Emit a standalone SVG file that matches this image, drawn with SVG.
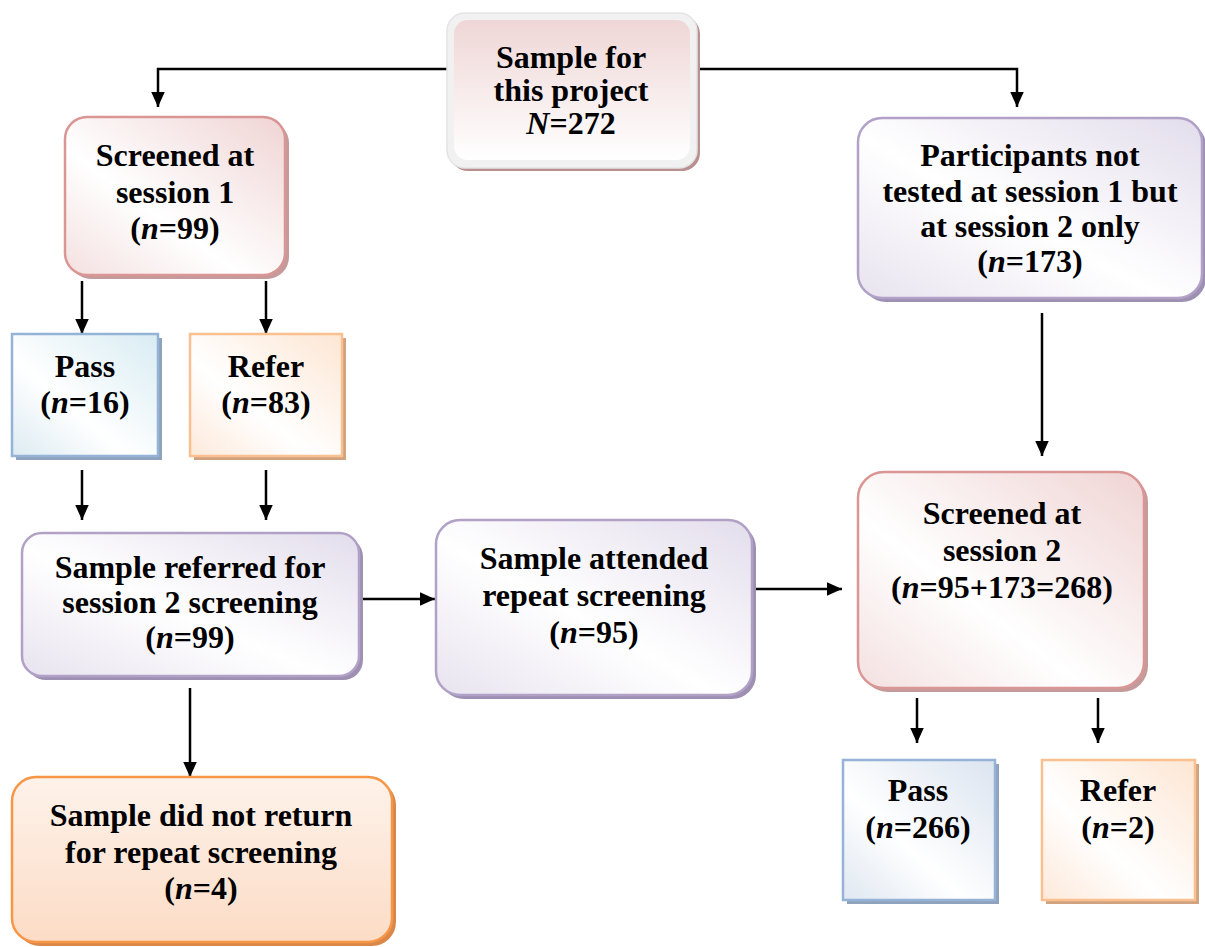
<svg xmlns="http://www.w3.org/2000/svg" width="1205" height="947" viewBox="0 0 1205 947">
<defs>
<linearGradient id="gPinkTop" x1="0" y1="0" x2="0" y2="1"><stop offset="0" stop-color="#efd6d6"/><stop offset="1" stop-color="#ffffff"/></linearGradient>
<linearGradient id="gPink" x1="1" y1="0" x2="0" y2="1"><stop offset="0" stop-color="#f0d4d4"/><stop offset="0.6" stop-color="#ffffff"/><stop offset="1" stop-color="#f4e0e0"/></linearGradient>
<linearGradient id="gPurple" x1="1" y1="0" x2="0" y2="1"><stop offset="0" stop-color="#e3ddec"/><stop offset="0.55" stop-color="#ffffff"/><stop offset="1" stop-color="#e8e3ef"/></linearGradient>
<linearGradient id="gBlue" x1="1" y1="0" x2="0" y2="1"><stop offset="0" stop-color="#d8ecf3"/><stop offset="0.6" stop-color="#ffffff"/><stop offset="1" stop-color="#dcebf2"/></linearGradient>
<linearGradient id="gBlue2" x1="1" y1="0" x2="0" y2="1"><stop offset="0" stop-color="#dbe4f0"/><stop offset="0.6" stop-color="#ffffff"/><stop offset="1" stop-color="#dfe7f1"/></linearGradient>
<linearGradient id="gOrange" x1="1" y1="0" x2="0" y2="1"><stop offset="0" stop-color="#fde6d3"/><stop offset="0.6" stop-color="#ffffff"/><stop offset="1" stop-color="#fde9da"/></linearGradient>
<linearGradient id="gOrangeB" x1="0" y1="0" x2="0" y2="1"><stop offset="0" stop-color="#fef2ea"/><stop offset="1" stop-color="#fcdcc6"/></linearGradient>
<marker id="arr" viewBox="0 0 10 10" refX="10" refY="5" markerWidth="15" markerHeight="15" markerUnits="userSpaceOnUse" orient="auto"><path d="M0,0.5 L10,5 L0,9.5 Z" fill="#000"/></marker>
</defs>
<style>
text{font-family:"Liberation Serif","Times New Roman",serif;font-weight:bold;font-size:32px;fill:#000;text-anchor:middle}
.i{font-style:italic}
.pink{fill:url(#gPink);stroke:#d99694;stroke-width:2.5}
.purple{fill:url(#gPurple);stroke:#b2a1c7;stroke-width:2.5}
.blue{fill:url(#gBlue);stroke:#95b3d7;stroke-width:2.5}
.blue2{fill:url(#gBlue2);stroke:#95b3d7;stroke-width:2.5}
.orange{fill:url(#gOrange);stroke:#fac090;stroke-width:2.5}
.orangeB{fill:url(#gOrangeB);stroke:#f79646;stroke-width:2.5}
.shP{fill:#c49a9a}
.shU{fill:#9d90b2}
.shB{fill:#8fa3bd}
.shO{fill:#d0a380}
.conn{fill:none;stroke:#000;stroke-width:2.5;marker-end:url(#arr)}
</style>
<rect width="1205" height="947" fill="#fff"/>

<g id="connectors">
<path class="conn" d="M447,69 H158 V107"/>
<path class="conn" d="M697,69 H1017 V107"/>
<path class="conn" d="M82,281 V334"/>
<path class="conn" d="M266,281 V334"/>
<path class="conn" d="M82,470 V520"/>
<path class="conn" d="M266,470 V520"/>
<path class="conn" d="M360,599 H435"/>
<path class="conn" d="M753,589 H842"/>
<path class="conn" d="M1042,313 V456"/>
<path class="conn" d="M190,688 V777"/>
<path class="conn" d="M917,698 V743"/>
<path class="conn" d="M1098,698 V743"/>
</g>

<g id="n-sample">
<rect x="450" y="16" width="250" height="155" rx="18" fill="#b98f8f"/>
<rect x="447" y="13" width="250" height="155" rx="18" fill="#f1f1f1" stroke="#e4e4e4" stroke-width="1.5"/>
<rect x="454" y="20" width="236" height="140" rx="14" fill="url(#gPinkTop)"/>
<text x="571" y="68">Sample for</text>
<text x="571" y="101">this project</text>
<text x="571" y="134"><tspan class="i">N</tspan>=272</text>
</g>

<g id="n-screened1">
<rect x="69" y="121" width="220" height="158" rx="22" class="shP"/>
<rect x="65" y="117" width="220" height="158" rx="22" class="pink"/>
<text x="175" y="166">Screened at</text>
<text x="175" y="203">session 1</text>
<text x="175" y="239">(<tspan class="i">n</tspan>=99)</text>
</g>

<g id="n-pass1">
<rect x="16" y="338" width="146" height="122" class="shB"/>
<rect x="12" y="334" width="146" height="122" class="blue"/>
<text x="85" y="377">Pass</text>
<text x="85" y="413">(<tspan class="i">n</tspan>=16)</text>
</g>

<g id="n-refer1">
<rect x="194" y="338" width="152" height="122" class="shO"/>
<rect x="190" y="334" width="152" height="122" class="orange"/>
<text x="266" y="377">Refer</text>
<text x="266" y="413">(<tspan class="i">n</tspan>=83)</text>
</g>

<g id="n-referred">
<rect x="26" y="537" width="337" height="143" rx="20" class="shU"/>
<rect x="22" y="533" width="337" height="143" rx="20" class="purple"/>
<text x="190" y="578">Sample referred for</text>
<text x="190" y="613">session 2 screening</text>
<text x="190" y="648">(<tspan class="i">n</tspan>=99)</text>
</g>

<g id="n-attended">
<rect x="440" y="524" width="316" height="175" rx="24" class="shU"/>
<rect x="436" y="520" width="316" height="175" rx="24" class="purple"/>
<text x="594" y="569">Sample attended</text>
<text x="594" y="606">repeat screening</text>
<text x="594" y="643">(<tspan class="i">n</tspan>=95)</text>
</g>

<g id="n-participants">
<rect x="862" y="122" width="344" height="180" rx="24" class="shU"/>
<rect x="858" y="118" width="344" height="180" rx="24" class="purple"/>
<text x="1030" y="166">Participants not</text>
<text x="1030" y="202">tested at session 1 but</text>
<text x="1030" y="237">at session 2 only</text>
<text x="1030" y="272">(<tspan class="i">n</tspan>=173)</text>
</g>

<g id="n-screened2">
<rect x="862" y="476" width="286" height="216" rx="26" class="shP"/>
<rect x="858" y="472" width="286" height="216" rx="26" class="pink"/>
<text x="1002" y="524">Screened at</text>
<text x="1002" y="561">session 2</text>
<text x="1002" y="598">(<tspan class="i">n</tspan>=95+173=268)</text>
</g>

<g id="n-pass2">
<rect x="847" y="764" width="152" height="140" class="shB"/>
<rect x="843" y="760" width="152" height="140" class="blue2"/>
<text x="918" y="801">Pass</text>
<text x="918" y="838">(<tspan class="i">n</tspan>=266)</text>
</g>

<g id="n-refer2">
<rect x="1046" y="764" width="153" height="140" class="shO"/>
<rect x="1042" y="760" width="153" height="140" class="orange"/>
<text x="1118" y="801">Refer</text>
<text x="1118" y="838">(<tspan class="i">n</tspan>=2)</text>
</g>

<g id="n-noreturn">
<rect x="16" y="781" width="380" height="165" rx="24" fill="#d9884a"/>
<rect x="12" y="777" width="380" height="165" rx="24" class="orangeB"/>
<text x="201" y="826">Sample did not return</text>
<text x="201" y="863">for repeat screening</text>
<text x="201" y="899">(<tspan class="i">n</tspan>=4)</text>
</g>
</svg>
